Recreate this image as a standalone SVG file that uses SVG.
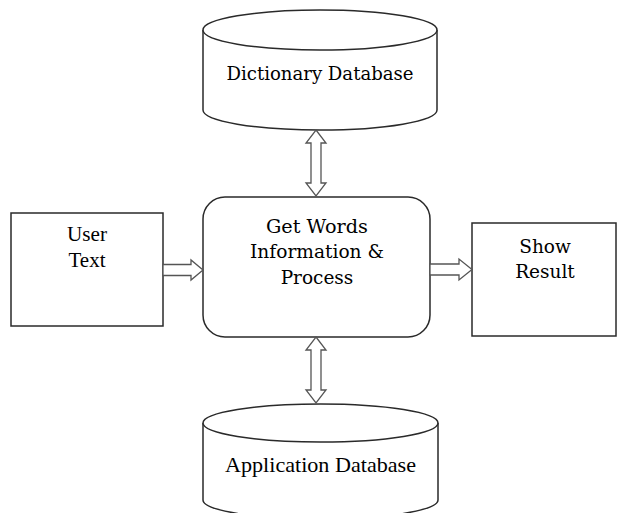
<svg xmlns="http://www.w3.org/2000/svg" width="618" height="513" viewBox="0 0 618 513">
<style>
.shape{fill:#ffffff;stroke:#2a2a2a;stroke-width:1.5}
.arrow{fill:#ffffff;stroke:#555555;stroke-width:1.3;stroke-linejoin:miter}
.cam{font-family:"DejaVu Serif","Liberation Serif",serif;font-size:18.5px;fill:#000000;text-anchor:middle}
.tnr{font-family:"Liberation Serif","Times New Roman",serif;font-size:21px;fill:#000000;text-anchor:middle}
</style>
<rect width="618" height="513" fill="#ffffff"/>
<g id="dictionary-db">
<path class="shape" d="M203,30 L203,110 A117,20 0 0 0 437,110 L437,30"/>
<ellipse class="shape" cx="320" cy="30" rx="117" ry="20"/>
<text class="cam" x="320" y="80" textLength="187" lengthAdjust="spacingAndGlyphs">Dictionary Database</text>
</g>
<g id="process">
<rect class="shape" x="203" y="197" width="227" height="140" rx="22" ry="22"/>
<text class="cam" x="317" y="233" textLength="102" lengthAdjust="spacingAndGlyphs">Get Words</text>
<text class="cam" x="317" y="258" textLength="134" lengthAdjust="spacingAndGlyphs">Information &amp;</text>
<text class="cam" x="317" y="284">Process</text>
</g>
<g id="user-text">
<rect class="shape" x="11" y="213" width="152" height="113"/>
<text class="tnr" x="87" y="241" textLength="40" lengthAdjust="spacingAndGlyphs">User</text>
<text class="tnr" x="87" y="267">Text</text>
</g>
<g id="show-result">
<rect class="shape" x="472" y="223" width="144" height="113"/>
<text class="cam" x="545" y="253">Show</text>
<text class="cam" x="545" y="278">Result</text>
</g>
<g id="application-db">
<path class="shape" d="M203,423 L203,500 A117.5,19 0 0 0 438,500 L438,423"/>
<ellipse class="shape" cx="320.5" cy="423" rx="117.5" ry="19"/>
<text class="tnr" x="320.5" y="472" textLength="191" lengthAdjust="spacingAndGlyphs">Application Database</text>
</g>
<g id="connectors">
<polygon class="arrow" points="316,130 326,143 321,143 321,183 326,183 316,196 306,183 311,183 311,143 306,143"/>
<polygon class="arrow" points="316,337 326,350 321,350 321,390 326,390 316,403 306,390 311,390 311,350 306,350"/>
<polygon class="arrow" points="163,264.5 191,264.5 191,260 203,270 191,280 191,275.5 163,275.5"/>
<polygon class="arrow" points="430,264 459,264 459,259 472,269.5 459,280 459,275 430,275"/>
</g>
</svg>
